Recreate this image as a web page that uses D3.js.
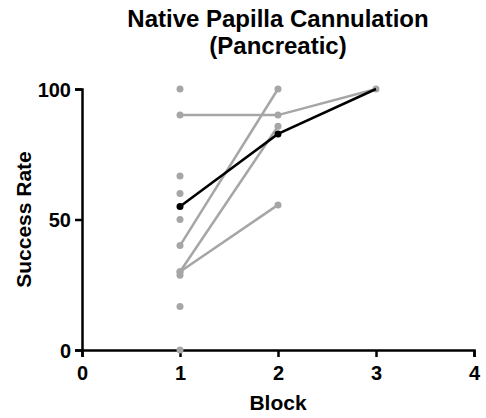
<!DOCTYPE html>
<html>
<head>
<meta charset="utf-8">
<script src="https://cdn.jsdelivr.net/npm/d3@7/dist/d3.min.js"></script>
<style>
  html, body { margin: 0; padding: 0; background: #fff; }
  svg { display: block; font-family: "Liberation Sans", Arial, sans-serif; font-weight: bold; }
</style>
</head>
<body>
<svg id="chart" width="486" height="418"></svg>
<script>
// Success rate per block: every individual score, paired trajectories and the block means
const blocks = [1, 2, 3];
const block1Scores = [100, 90, 66.7, 60, 50, 40, 30, 30, 28.6, 16.7, 0];
const block2Scores = [100, 90, 85.7, 55.6];
const block3Scores = [100];
const meanScores = [55, 82.8, 100];

// Operators followed across consecutive blocks
const trajectoryA = [90, 90, 100];
const trajectoryB = [40, 100];
const trajectoryC = [30, 85.7];
const trajectoryD = [30, 55.6];

const xTicks = [0, 1, 2, 3, 4];
const yTicks = [0, 50, 100];

const titleLines = ["Native Papilla Cannulation", "(Pancreatic)"];
const xLabel = "Block";
const yLabel = "Success Rate";

const grey = "#a6a6a6";
const svg = d3.select("#chart");

const x = d3.scaleLinear().domain([0, 4]).range([82, 474]);
const y = d3.scaleLinear().domain([0, 100]).range([350, 89]);

// Title, centred over the plot area
svg.append("g").selectAll("text")
  .data(titleLines)
  .join("text")
  .attr("x", x(2))
  .attr("y", (d, i) => 27 + i * 27)
  .attr("text-anchor", "middle")
  .attr("font-size", 24)
  .attr("fill", "#000")
  .text(d => d);

// Axes
const xAxis = svg.append("g")
  .attr("transform", `translate(0,${y(0)})`)
  .call(d3.axisBottom(x).tickValues(xTicks).tickFormat(d3.format("d")).tickSize(7).tickPadding(9));
const yAxis = svg.append("g")
  .attr("transform", `translate(${x(0)},0)`)
  .call(d3.axisLeft(y).tickValues(yTicks).tickFormat(d3.format("d")).tickSize(7).tickPadding(4));

[xAxis, yAxis].forEach(ax => {
  ax.select(".domain").attr("stroke", "#000").attr("stroke-width", 2.5);
  ax.selectAll(".tick line").attr("stroke", "#000").attr("stroke-width", 2.5);
  ax.selectAll(".tick text").attr("fill", "#000").attr("font-size", 20)
    .attr("font-family", "Liberation Sans, Arial, sans-serif").attr("font-weight", "bold");
});
xAxis.selectAll(".tick text").attr("dy", "0.71em");
yAxis.selectAll(".tick text").attr("dy", "0.36em");

// Axis titles
svg.append("text")
  .attr("x", x(2))
  .attr("y", 410)
  .attr("text-anchor", "middle")
  .attr("font-size", 21)
  .text(xLabel);
svg.append("text")
  .attr("transform", `translate(31,${y(50)}) rotate(-90)`)
  .attr("text-anchor", "middle")
  .attr("font-size", 21)
  .text(yLabel);

const line = d3.line()
  .x((d, i) => x(blocks[i]))
  .y(d => y(d));

// Individual trajectories
svg.append("g").selectAll("path")
  .data([trajectoryA, trajectoryB, trajectoryC, trajectoryD])
  .join("path")
  .attr("d", d => line(d))
  .attr("fill", "none")
  .attr("stroke", grey)
  .attr("stroke-width", 2.5);

// Individual scores
const scoreSets = [block1Scores, block2Scores, block3Scores];
const dots = scoreSets.flatMap((set, i) => set.map(v => ({ block: blocks[i], value: v })));
svg.append("g").selectAll("circle")
  .data(dots)
  .join("circle")
  .attr("cx", d => x(d.block))
  .attr("cy", d => y(d.value))
  .attr("r", 3.5)
  .attr("fill", grey);

// Block means
svg.append("path")
  .attr("d", line(meanScores))
  .attr("fill", "none")
  .attr("stroke", "#000")
  .attr("stroke-width", 2.5);
svg.append("g").selectAll("circle")
  .data(meanScores.slice(0, 2))
  .join("circle")
  .attr("cx", (d, i) => x(blocks[i]))
  .attr("cy", d => y(d))
  .attr("r", 3.5)
  .attr("fill", "#000");
</script>
</body>
</html>
